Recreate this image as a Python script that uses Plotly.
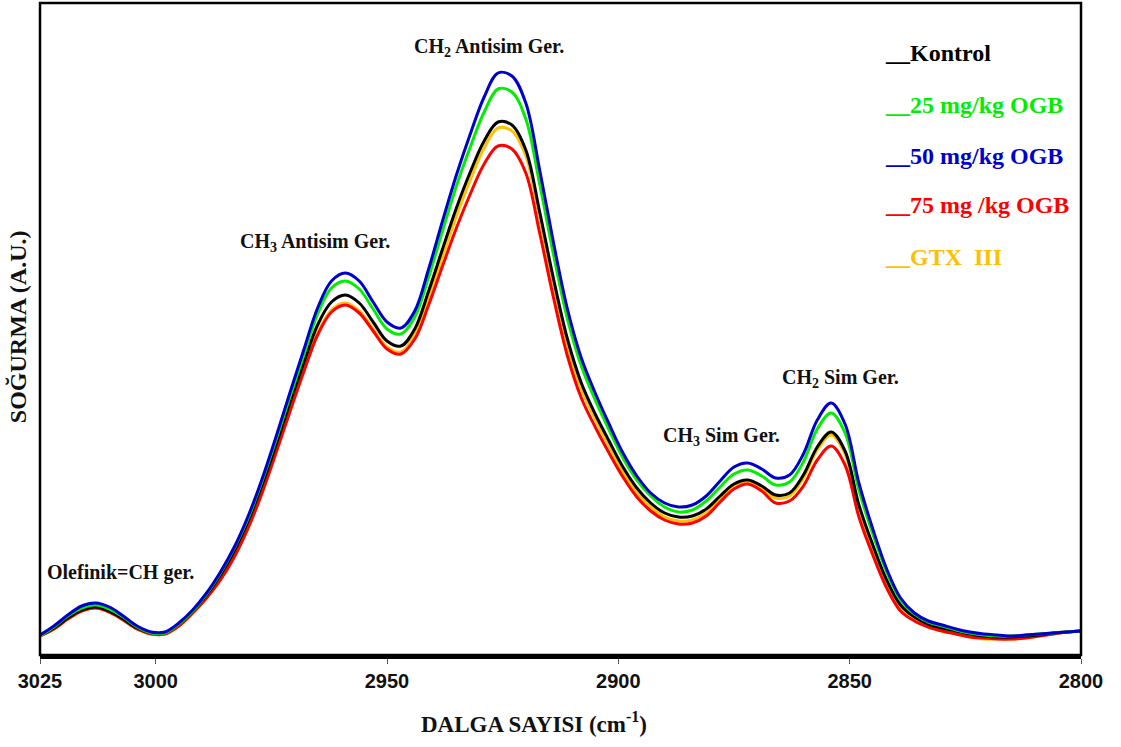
import plotly.graph_objects as go

# Wavenumbers (cm^-1), every 3 units
wavenumber = [3025, 3022, 3019, 3016, 3013, 3010, 3007, 3004, 3001, 2998,
              2995, 2992, 2989, 2986, 2983, 2980, 2977, 2974, 2971, 2968,
              2965, 2962, 2959, 2956, 2953, 2950, 2947, 2944, 2941, 2938,
              2935, 2932, 2929, 2926, 2923, 2920, 2917, 2914, 2911, 2908,
              2905, 2902, 2899, 2896, 2893, 2890, 2887, 2884, 2881, 2878,
              2875, 2872, 2869, 2866, 2863, 2860, 2857, 2854, 2851, 2848,
              2845, 2842, 2839, 2836, 2833, 2830, 2827, 2824, 2821, 2818,
              2815, 2812, 2809, 2806, 2803, 2800]

kontrol = [19, 27, 37, 45, 48, 44, 36, 27, 22, 22,
           31, 44, 60, 80, 104, 134, 170, 210, 252, 292,
           330, 353, 360, 352, 333, 314, 309, 326, 364, 406,
           447, 483, 514, 533, 530, 505, 443, 376, 316, 272,
           241, 214, 188, 167, 152, 142, 138, 139, 146, 159,
           171, 175, 169, 160, 162, 180, 208, 223, 204, 150,
           110, 75, 50, 38, 31, 27, 24, 21, 19, 18,
           18, 19, 20, 22, 23, 24]

ogb25 = [19, 28, 39, 47, 50, 46, 38, 28, 22, 22,
         31, 44, 61, 82, 107, 137, 174, 215, 258, 300,
         341, 367, 374, 366, 346, 326, 321, 338, 378, 424,
         469, 508, 543, 566, 563, 536, 471, 400, 336, 289,
         255, 225, 197, 175, 159, 148, 143, 145, 154, 168,
         181, 185, 179, 170, 173, 193, 226, 242, 222, 165,
         121, 83, 55, 41, 33, 29, 25, 22, 20, 19,
         19, 20, 21, 22, 23, 24]

ogb50 = [20, 29, 40, 49, 52, 48, 39, 29, 23, 23,
         32, 45, 62, 83, 108, 139, 176, 218, 262, 305,
         347, 374, 382, 374, 353, 333, 327, 344, 386, 434,
         480, 521, 558, 582, 579, 552, 485, 412, 346, 297,
         262, 231, 202, 179, 162, 152, 148, 150, 159, 174,
         188, 192, 186, 177, 180, 201, 235, 252, 231, 172,
         126, 86, 57, 42, 34, 30, 26, 23, 21, 20,
         19, 20, 21, 22, 23, 24]

ogb75 = [19, 26, 36, 44, 47, 43, 35, 26, 21, 21,
         29, 42, 57, 75, 98, 127, 162, 202, 243, 283,
         320, 343, 350, 342, 324, 306, 301, 316, 350, 389,
         427, 461, 491, 509, 506, 482, 422, 357, 299, 257,
         228, 202, 178, 158, 144, 135, 131, 132, 139, 153,
         166, 171, 164, 152, 154, 169, 195, 209, 190, 138,
         100, 67, 44, 34, 28, 24, 21, 18, 17, 16,
         16, 17, 19, 21, 23, 24]

gtx3 = [19, 26, 36, 44, 47, 43, 35, 26, 21, 21,
        29, 42, 57, 76, 99, 128, 164, 204, 245, 285,
        322, 345, 352, 344, 326, 308, 303, 320, 357, 398,
        439, 475, 507, 527, 524, 499, 437, 370, 310, 266,
        236, 209, 183, 162, 148, 138, 134, 135, 142, 156,
        168, 172, 166, 157, 159, 177, 205, 220, 201, 147,
        107, 72, 47, 35, 28, 24, 21, 18, 16, 16,
        16, 17, 19, 21, 23, 24]

series_names = ["Kontrol", "25 mg/kg OGB", "50 mg/kg OGB", "75 mg /kg OGB", "GTX  III"]
series_colors = ["#000000", "#00EE00", "#0000CC", "#FF0000", "#FFC000"]
tick_vals = [3025, 3000, 2950, 2900, 2850, 2800]

fig = go.Figure()
draw = [(gtx3, 4), (ogb75, 3), (kontrol, 0), (ogb25, 1), (ogb50, 2)]
for vals, i in draw:
    fig.add_trace(go.Scatter(x=wavenumber, y=vals, mode="lines",
                             line=dict(color=series_colors[i], width=3, shape="spline", smoothing=1.0),
                             name=series_names[i], showlegend=False))

serif = "Liberation Serif, Times New Roman, serif"

peak_labels = [
    ("Olefinik=CH ger.", 3007.7, 83),
    ("CH<sub>3</sub> Antisim Ger.", 2965.5, 413),
    ("CH<sub>2</sub> Antisim Ger.", 2927.9, 608),
    ("CH<sub>3</sub> Sim Ger.", 2877.6, 219),
    ("CH<sub>2</sub> Sim Ger.", 2852.0, 277),
]
for txt, xv, yv in peak_labels:
    fig.add_annotation(x=xv, y=yv, text="<b>" + txt + "</b>", xanchor="center", yanchor="middle",
                       showarrow=False, font=dict(family=serif, size=20, color="#111111"))

# Custom legend
leg_y = [602, 550, 499, 450, 398]
for i in range(5):
    fig.add_annotation(x=2842.9, y=leg_y[i], xanchor="left", yanchor="middle",
                       text="<b>__" + series_names[i] + "</b>", showarrow=False,
                       font=dict(family=serif, size=24, color=series_colors[i]))

# Axis titles
fig.add_annotation(xref="paper", yref="paper", x=0.4745, y=-0.103, xanchor="center", yanchor="middle",
                   text="<b>DALGA SAYISI (cm<sup>-1</sup>)</b>", showarrow=False,
                   font=dict(family=serif, size=23, color="#111111"))
fig.add_annotation(xref="paper", yref="paper", x=-0.021, y=0.503, xanchor="center", yanchor="middle",
                   text="<b>SOĞURMA (A.U.)</b>", textangle=-90, showarrow=False,
                   font=dict(family=serif, size=24, color="#111111"))

# Frame
fig.add_shape(type="rect", xref="paper", yref="paper", x0=0, y0=0, x1=1, y1=1,
              line=dict(color="#000000", width=2.5))

fig.update_xaxes(range=[3025, 2800], tickvals=tick_vals, ticktext=[str(v) for v in tick_vals],
                 showgrid=False, zeroline=False, showline=True, linecolor="#000000", linewidth=4,
                 ticks="outside", ticklen=5, tickwidth=1, tickcolor="#555555",
                 tickfont=dict(family="Liberation Sans Narrow, Liberation Sans, Arial", size=20,
                               color="#111111", weight="bold"))
fig.update_yaxes(range=[0, 652], showgrid=False, zeroline=False, showticklabels=False,
                 showline=False, ticks="")

fig.update_layout(width=1121, height=747, margin=dict(l=40, r=40, t=3, b=92),
                  plot_bgcolor="white", paper_bgcolor="white", showlegend=False)

fig.write_html("out.html")
